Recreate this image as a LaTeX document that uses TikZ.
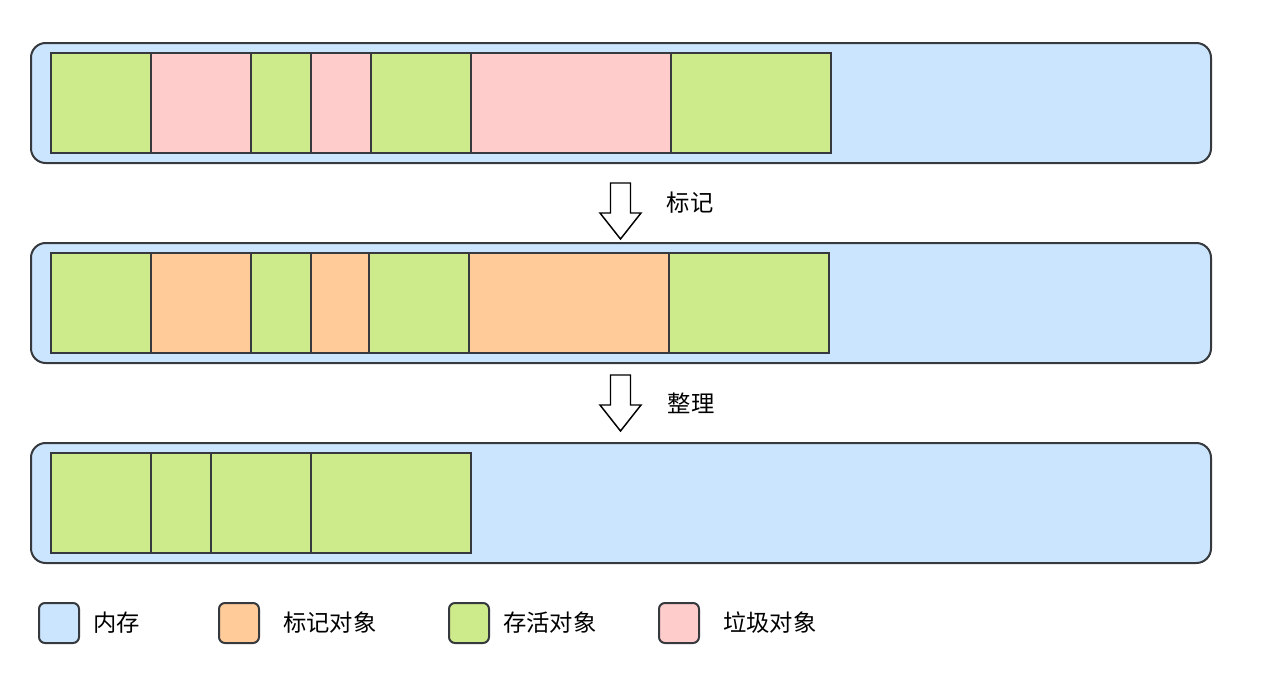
\documentclass[tikz,border=0pt]{standalone}
\usepackage{fontspec}
\setmainfont{Noto Sans CJK SC}
\definecolor{memblue}{HTML}{CCE5FF}
\definecolor{livegreen}{HTML}{CDEB8B}
\definecolor{garbpink}{HTML}{FFCCCC}
\definecolor{markorange}{HTML}{FFCC99}
\definecolor{strokec}{HTML}{36393D}
\begin{document}
\begin{tikzpicture}[x=0.75pt,y=-0.75pt,
  mem/.style={draw=strokec,fill=memblue,line width=1.5pt,rounded corners=11pt,anchor=north west,inner sep=0pt,outer sep=0pt,minimum width=885pt,minimum height=90pt},
  obj/.style={draw=strokec,line width=1.5pt,anchor=north west,inner sep=0pt,outer sep=0pt,minimum height=75pt},
  legbox/.style={draw=strokec,line width=1.5pt,rounded corners=4.5pt,anchor=north west,inner sep=0pt,outer sep=0pt,minimum width=30pt,minimum height=30pt},
  lbl/.style={font=\fontsize{17.5}{20}\selectfont,inner sep=0pt,text=black},
  bigarrow/.style={draw=black,fill=white,line width=1.1pt,line join=miter}]
\useasboundingbox (0,0) rectangle (1264,672);
% memory rows
\node[mem] (m1) at (31,43) {};
\node[mem] (m2) at (31,243) {};
\node[mem] (m3) at (31,443) {};
% row 1
\node[obj,fill=livegreen,minimum width=75pt] (a1) at (51,53) {};
\node[obj,fill=garbpink,minimum width=75pt] (a2) at (151,53) {};
\node[obj,fill=livegreen,minimum width=45pt] (a3) at (251,53) {};
\node[obj,fill=garbpink,minimum width=45pt] (a4) at (311,53) {};
\node[obj,fill=livegreen,minimum width=75pt] (a5) at (371,53) {};
\node[obj,fill=garbpink,minimum width=150pt] (a6) at (471,53) {};
\node[obj,fill=livegreen,minimum width=120pt] (a7) at (671,53) {};
% row 2
\node[obj,fill=livegreen,minimum width=75pt] (b1) at (51,253) {};
\node[obj,fill=markorange,minimum width=75pt] (b2) at (151,253) {};
\node[obj,fill=livegreen,minimum width=45pt] (b3) at (251,253) {};
\node[obj,fill=markorange,minimum width=43.5pt] (b4) at (311,253) {};
\node[obj,fill=livegreen,minimum width=75pt] (b5) at (369,253) {};
\node[obj,fill=markorange,minimum width=150pt] (b6) at (469,253) {};
\node[obj,fill=livegreen,minimum width=120pt] (b7) at (669,253) {};
% row 3
\node[obj,fill=livegreen,minimum width=75pt] (c1) at (51,453) {};
\node[obj,fill=livegreen,minimum width=45pt] (c2) at (151,453) {};
\node[obj,fill=livegreen,minimum width=75pt] (c3) at (211,453) {};
\node[obj,fill=livegreen,minimum width=120pt] (c4) at (311,453) {};
% arrows
\coordinate (t1) at (620.5,183);
\coordinate (t2) at (620.5,375);
\foreach \t in {t1,t2}{
  \draw[bigarrow] ([shift={(-10,0)}]\t) -- ([shift={(-10,30)}]\t) -- ([shift={(-20.5,30)}]\t) -- ([shift={(0,56)}]\t) -- ([shift={(20.5,30)}]\t) -- ([shift={(10,30)}]\t) -- ([shift={(10,0)}]\t) -- cycle;
}
\node[lbl] (l1) at (690,203) {标记};
\node[lbl] (l2) at (691,403) {整理};
% legend
\node[legbox,fill=memblue] (k1) at (39,603) {};
\node[legbox,fill=markorange] (k2) at (219,603) {};
\node[legbox,fill=livegreen] (k3) at (449,603) {};
\node[legbox,fill=garbpink] (k4) at (659,603) {};
\node[lbl,anchor=west] (kt1) at (93,623) {内存};
\node[lbl,anchor=west] (kt2) at (283,623) {标记对象};
\node[lbl,anchor=west] (kt3) at (503,623) {存活对象};
\node[lbl,anchor=west] (kt4) at (723,623) {垃圾对象};
\end{tikzpicture}
\end{document}
